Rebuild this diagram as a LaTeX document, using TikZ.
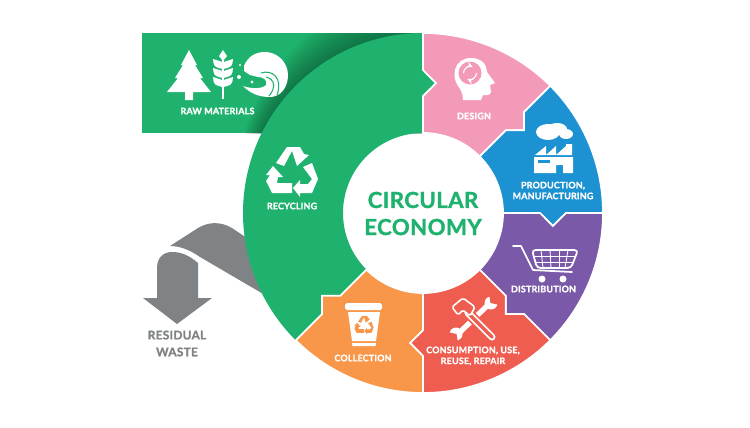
\documentclass[tikz,border=0pt]{standalone}
\usepackage{fontspec}
\setmainfont{Lato}[BoldFeatures={FakeBold=1.4},LetterSpace=2]
\usepackage{tikz}
\usetikzlibrary{arrows,positioning}
\definecolor{ecogreen}{RGB}{31, 178, 110}
\definecolor{ecopink}{RGB}{244, 154, 185}
\definecolor{ecoblue}{RGB}{28, 146, 210}
\definecolor{ecopurple}{RGB}{122, 89, 168}
\definecolor{ecored}{RGB}{238, 93, 79}
\definecolor{ecoorange}{RGB}{248, 150, 74}
\definecolor{ecogrey}{RGB}{128, 131, 133}
\tikzset{
  lbl/.style={text=white,font=\bfseries\fontsize{5.1}{6.2}\selectfont,align=center,inner sep=0pt},
  bigLbl/.style={text=ecogreen,font=\bfseries\fontsize{12.6}{15.4}\selectfont,align=center,inner sep=0pt},
  greyLbl/.style={text=ecogrey,font=\bfseries\fontsize{6.8}{9.6}\selectfont,align=center,inner sep=0pt},
  seg/.style={draw=white,line width=1pt},
  pics/recycle/.style={code={
    \fill[pic actions] (-16,-9) -- (-5,-25) -- (8,-25) -- (12,-18) -- (17,-17) -- (5,-6) -- (0,-21) -- (-8,-6) -- cycle;
    \fill[pic actions] (11,-5) -- (20,-9) -- (26,7) -- (20,21) -- (8,21) -- (8,25) -- (1,16) -- (8,8) -- (8,12) -- (16,12) -- (20,7) -- cycle;
    \fill[pic actions] (-19,-6) -- (-9,5) -- (-14,5) -- (-15,11) -- (0,11) -- (0,21) -- (-20,21) -- (-26,9) -- (-22,3) -- (-26,3) -- cycle;
  }}
}
% one piece of the ring: options, first angle, last angle
\newcommand{\ringseg}[3]{
  \path[#1] (#2:180) arc [start angle=#2, end angle=#3, radius=180] -- (#3:143) -- (#3+5.7:130.6) -- (#3:117) -- (#3:80)
    arc [start angle=#3, end angle=#2, radius=80] -- (#2:117) -- (#2+5.7:130.6) -- (#2:143) -- cycle;
}
\begin{document}
\begin{tikzpicture}[x=0.02cm,y=-0.02cm]
\useasboundingbox (0,0) rectangle (750,427);

% raw materials box with the shadow of the ring
\fill [ecogreen] (142,33) rectangle (423,133);
\begin{scope}
\clip (142,33) rectangle (423,133);
\foreach \i in {1,...,14}
  \fill [black,opacity=0.022] ({423+1.5*\i},{213-1.5*\i}) circle [radius={180+2*\i}];
\end{scope}

% residual waste
\fill [ecogrey] (170,246) -- (198,228) .. controls (208,222) and (220,221) .. (232,228) -- (250,240) -- (265,295) -- (200,257) .. controls (190,250) and (180,246) .. (170,246) -- cycle;
\fill [ecogrey] (157,298) -- (157,268) .. controls (157,258) and (163,252) .. (172,252) .. controls (182,252) and (190,256) .. (198,263) -- (198,298) -- (212,298) -- (177,324) -- (143,298) -- cycle;

% ring
\begin{scope}[shift={(423,213)}]
\ringseg{fill=ecogreen}{135}{270}
\ringseg{seg,fill=ecopink}{-90}{-45}
\ringseg{seg,fill=ecoblue}{-45}{0}
\ringseg{seg,fill=ecopurple}{0}{45}
\ringseg{seg,fill=ecored}{45}{90}
\ringseg{seg,fill=ecoorange}{90}{135}
\end{scope}

% tree
\fill [white] (189,50) -- (197,65) -- (195,65) -- (203,78) -- (200,78) -- (211,92) -- (193,92) -- (193,100) -- (185,100) -- (185,92) -- (167,92) -- (178,78) -- (175,78) -- (183,65) -- (181,65) -- cycle;
% wheat
\fill [white] (223,50) -- (227,56) -- (223,61) -- (219,56) -- cycle;
\draw [white,line width=0.7pt] (223,60) -- (223,99);
\foreach \y in {59,68,77} {
  \fill [white] (222.5,\y+10) -- (222.5,\y+3) .. controls (218,\y+1) .. (213,\y) -- (213.5,\y+4) .. controls (215,\y+8) .. (222.5,\y+10) -- cycle;
  \fill [white] (223.5,\y+10) -- (223.5,\y+3) .. controls (228,\y+1) .. (233,\y) -- (232.5,\y+4) .. controls (231,\y+8) .. (223.5,\y+10) -- cycle;
}
% wave
\fill [white] (244,66) .. controls (248,56) and (256,52) .. (265,52) .. controls (278,52) and (288,63) .. (288,75) .. controls (288,88) and (280,97) .. (270,97) .. controls (258,97) and (250,93) .. (243,86) .. controls (252,89) and (262,89) .. (266,85) .. controls (268,80) and (263,77) .. (258,77) -- (250,75) -- (244,71) -- cycle;
\draw [ecogreen,line width=0.6pt] (261,73) .. controls (273,69) and (283,79) .. (277,95);
\draw [ecogreen,line width=0.6pt] (266,77) .. controls (275,79) and (276,88) .. (269,96);
\fill [white] (240,65) circle [radius=1.2];
\fill [white] (239,77) circle [radius=2];
\fill [white] (252,82) circle [radius=1.6];

% recycling
\pic [fill=white] at (292,172) {recycle};

% head
\fill [white] (463,100) .. controls (463,94) and (461,90) .. (458,86) .. controls (451,76) and (454,58) .. (471,58) .. controls (482,58) and (487,65) .. (487,72) -- (495,83) -- (490,85) -- (491,92) .. controls (490,96) and (486,95) .. (483,95) -- (481,100) -- cycle;
\fill [ecopink] (470,73) circle [radius=11.5];
\draw [white,line width=0.6pt,-stealth] (463.5,73) arc [start angle=180, end angle=295, radius=6.5];
\draw [white,line width=0.6pt,-stealth] (476.5,73) arc [start angle=0, end angle=115, radius=6.5];

% factory
\fill [white] (548,132) ellipse [x radius=12, y radius=8];
\fill [white] (557,129) ellipse [x radius=10, y radius=6];
\fill [white] (566,134) ellipse [x radius=7, y radius=5];
\fill [white] (535,155) -- (546,146) -- (546,155) -- (556,146) -- (556,155) -- (566,146) -- (566,144) -- (572,144) -- (572,155) -- cycle;
\fill [white] (534,157) -- (573,157) -- (573,173) -- (563,173) -- (563,165) -- (556,165) -- (556,173) -- (534,173) -- cycle;
\fill [ecoblue] (538,160) rectangle (550,163);

% cart
\draw [white,line width=1pt,line cap=round,line join=round] (513,246) -- (521,246) -- (533,270) -- (572,272);
\draw [white,line width=1pt,rounded corners=2pt] (532,250) -- (578,250) -- (571,268) -- (537,268) -- cycle;
\foreach \x/\z in {541/543,550/551,559/559,568/565}
  \draw [white,line width=0.5pt] (\x,250) -- (\z,268);
\draw [white,line width=0.5pt] (533.5,256) -- (575.5,256);
\draw [white,line width=0.5pt] (535,262) -- (573.5,262);
\fill [white] (542,279) circle [radius=3.5];
\fill [white] (563,279) circle [radius=3.5];

% tools
\draw [white,line width=3pt] (459,333) -- (488,305);
\fill [white] (456,334) circle [radius=6.5];
\fill [white] (491,303) circle [radius=6.5];
\fill [ecored] (447,332) -- (456.5,334) -- (458,343) -- (450,346) -- cycle;
\fill [ecored] (500,305) -- (490.5,303) -- (489,294) -- (497,291) -- cycle;
\draw [ecored,line width=6pt] (470,315) -- (492,337);
\draw [white,line width=4pt,line cap=round] (468,313) -- (492,337);
\draw [ecored,line width=2pt,line cap=round] (468,313) -- (492,337);
\draw [white,fill=ecored,line width=0.9pt,rounded corners=1pt] (452,307) -- (463,298) -- (475,307) -- (470,316) -- (463,310) -- (458,315) -- cycle;

% bin
\fill [white,rounded corners=1pt] (345,303) rectangle (382,310);
\fill [white] (348,312) -- (380,312) -- (376,341) -- (352,341) -- cycle;
\fill [white] (352,343) -- (376,343) -- (375.5,346) -- (352.5,346) -- cycle;
\pic [fill=ecoorange,scale=0.37] at (364,325) {recycle};

% texts
\node [lbl] (rawmat) at (217.5,111) {RAW MATERIALS};
\node [lbl] (recycling) at (292,206) {RECYCLING};
\node [lbl] (design) at (474,116) {DESIGN};
\node [lbl] (production) at (553,190.5) {PRODUCTION,\\MANUFACTURING};
\node [lbl] (distribution) at (543.5,289) {DISTRIBUTION};
\node [lbl] (consumption) at (473,356) {CONSUMPTION, USE,\\REUSE, REPAIR};
\node [lbl] (collection) at (363,358) {COLLECTION};
\node [bigLbl] (circular) at (423,213.5) {CIRCULAR\\ECONOMY};
\node [greyLbl] (residual) at (177,343.5) {RESIDUAL\\WASTE};
\end{tikzpicture}
\end{document}
